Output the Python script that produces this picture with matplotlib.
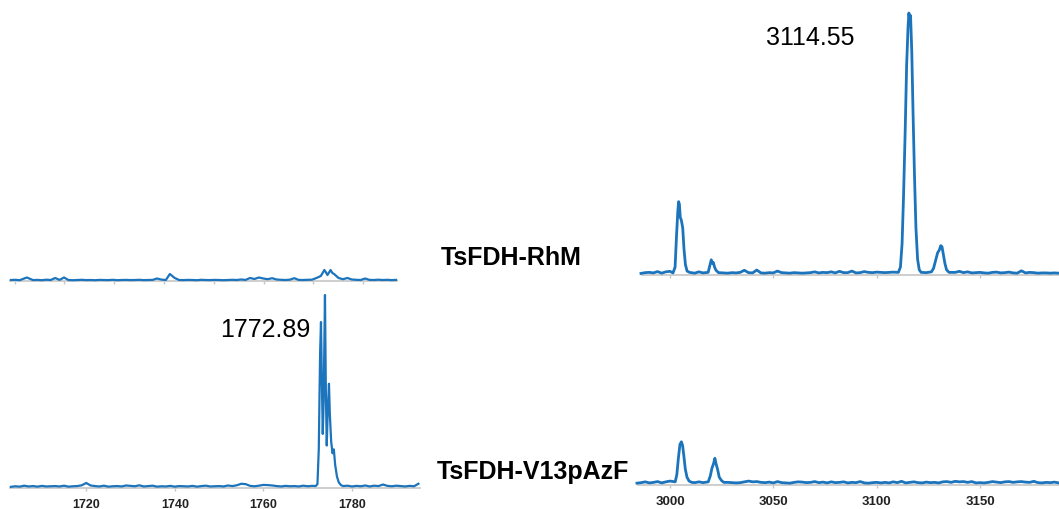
import numpy as np
import matplotlib.pyplot as plt

plt.rcParams['font.family'] = ['Liberation Sans', 'DejaVu Sans']

## data (intensity in % of each panel height)
# top left: TsFDH-RhM, low mass window
tl_start, tl_step = 1703, 1
tl_noise = [1.0, 1.2, 0.8, 2.5, 1.0, 0.9, 1.1, 0.8, 1.3, 1.0,
            3.0, 1.1, 3.5, 1.0, 0.8, 1.0, 1.2, 0.9, 1.0, 0.8,
            1.1, 1.0, 0.9, 1.2, 0.8, 1.0, 1.1, 0.9, 1.0, 1.2,
            0.9, 1.0, 1.1, 2.5, 1.4, 1.0, 1.2, 3.0, 1.0, 0.9,
            1.1, 1.0, 0.8, 1.2, 1.0, 0.9, 1.1, 1.0, 0.8, 1.0,
            1.2, 1.0, 1.5, 1.1, 3.0, 2.0, 3.5, 2.5, 1.8, 2.8,
            1.5, 1.2, 1.0, 1.3, 2.8, 1.1, 1.0, 1.2, 1.3, 3.0,
            5.0, 4.0, 5.0, 5.0, 3.0, 1.8, 3.0, 1.5, 1.2, 1.0,
            2.5, 1.1, 1.0, 1.3, 1.0, 1.2, 0.9, 1.1]
tl_peak_x = [1706.6, 1738.9, 1773.8, 1774.1, 1774.5, 1775.2, 1775.6, 1776.0]
tl_peak_y = [3.5, 7.0, 11.0, 9.0, 6.0, 11.0, 8.0, 7.0]
tl_ticks = [1703.9, 1715.0, 1726.3, 1737.6, 1748.8, 1760.1, 1771.2, 1782.5]

# bottom left: TsFDH-V13pAzF, low mass window
bl_start, bl_step = 1703, 1
bl_noise = [0.6, 0.9, 0.7, 1.2, 0.8, 1.0, 0.7, 1.1, 0.8, 0.9,
            1.0, 0.8, 1.2, 0.7, 0.9, 1.0, 1.4, 2.6, 1.3, 1.0,
            0.8, 1.2, 0.7, 0.9, 1.0, 0.8, 1.3, 1.1, 0.9, 1.4,
            0.8, 1.0, 1.2, 0.7, 0.9, 0.8, 1.1, 0.7, 1.0, 0.9,
            0.8, 1.1, 0.7, 1.0, 1.2, 0.8, 0.9, 1.0, 0.8, 1.3,
            1.0, 1.4, 2.2, 2.0, 1.1, 0.9, 1.2, 1.6, 1.5, 1.3,
            1.0, 0.8, 1.1, 0.9, 1.0, 0.8, 1.2, 0.9, 1.1, 1.0,
            1.0, 1.0, 1.0, 1.0, 1.0, 1.0, 1.2, 0.8, 1.1, 0.9,
            1.3, 0.8, 1.2, 1.0, 1.8, 1.1, 0.9, 1.2, 1.0, 0.8,
            1.1, 0.9, 2.2]
bl_peak_x = [1771.8, 1772.2, 1772.5, 1772.8, 1773.0, 1773.2, 1773.4, 1773.6,
             1773.9, 1774.1, 1774.3, 1774.5, 1774.8, 1775.0, 1775.3, 1775.6,
             1775.9, 1776.2, 1776.6, 1777.0, 1777.5]
bl_peak_y = [1.0, 2.0, 20.0, 70.0, 86.0, 55.0, 28.0, 45.0,
             100.0, 50.0, 22.0, 38.0, 54.0, 38.0, 24.0, 18.0,
             20.0, 12.0, 6.0, 3.0, 1.5]
bl_ticks = [1720, 1740, 1760, 1780]

# top right: TsFDH-RhM, high mass window
tr_start, tr_step = 2986, 2
tr_noise = [0.6, 0.9, 1.0, 0.8, 1.3, 0.7, 1.2, 1.4, 0.8, 0.8,
            0.8, 0.8, 1.0, 0.7, 1.2, 0.8, 0.9, 0.8, 0.9, 0.9,
            0.8, 0.7, 0.9, 0.8, 1.0, 1.8, 0.9, 0.8, 1.9, 0.8,
            0.7, 0.9, 0.8, 1.5, 0.9, 0.8, 0.7, 0.9, 0.8, 0.7,
            0.8, 0.9, 1.2, 0.8, 1.0, 0.9, 1.2, 0.8, 1.4, 0.9,
            0.9, 1.5, 0.8, 0.9, 1.3, 1.0, 0.9, 1.1, 1.0, 0.9,
            1.0, 1.1, 0.9, 1.0, 1.0, 1.0, 1.0, 1.0, 1.3, 0.9,
            1.0, 1.0, 1.0, 1.0, 1.0, 1.0, 1.0, 1.4, 0.9, 1.2,
            0.8, 0.9, 1.0, 0.8, 0.7, 1.0, 1.1, 0.8, 0.9, 1.1,
            0.8, 0.7, 1.6, 0.8, 1.0, 0.9, 0.7, 0.8, 0.8, 0.7,
            0.8, 0.7]
tr_peak_x = [3001.5, 3002.5, 3003.2, 3003.8, 3004.2, 3004.6, 3005.0, 3005.5,
             3006.2, 3006.8, 3007.5, 3008.3, 3009.5,
             3018.5, 3019.3, 3020.0, 3020.5, 3021.0, 3021.6, 3022.3, 3023.5,
             3110.5, 3111.5, 3112.3, 3113.0, 3113.8, 3114.5, 3115.2, 3115.6,
             3116.0, 3116.4, 3117.0, 3117.6, 3118.3, 3119.0, 3119.8, 3120.6,
             3121.5,
             3126.5, 3127.5, 3128.5, 3129.5, 3130.3, 3131.0, 3131.6, 3132.2,
             3133.0, 3133.8, 3135.0]
tr_peak_y = [0.8, 3.0, 15.0, 24.0, 28.0, 27.0, 22.0, 21.0,
             18.0, 10.0, 4.0, 1.5, 1.0,
             1.0, 3.5, 5.8, 4.5, 4.8, 3.0, 1.8, 0.9,
             1.0, 3.0, 12.0, 30.0, 55.0, 80.0, 95.0, 100.0,
             97.0, 99.0, 85.0, 62.0, 38.0, 18.0, 6.0, 2.0,
             1.0,
             1.2, 2.5, 5.5, 8.5, 9.5, 11.2, 10.8, 8.0,
             4.5, 2.0, 1.0]

# bottom right: TsFDH-V13pAzF, high mass window
br_start, br_step = 2984, 2
br_noise = [0.7, 0.9, 1.2, 0.8, 1.0, 1.3, 0.8, 1.2, 1.5, 0.8,
            0.8, 0.8, 0.8, 0.8, 0.9, 1.2, 0.9, 0.8, 0.8, 0.8,
            0.8, 0.8, 1.0, 0.9, 0.8, 0.9, 1.2, 1.5, 1.2, 1.3,
            1.0, 0.9, 1.1, 0.8, 1.3, 0.9, 0.8, 0.7, 1.0, 1.2,
            1.1, 0.9, 1.0, 1.3, 0.9, 1.1, 0.8, 1.2, 0.9, 1.0,
            1.2, 0.8, 1.0, 0.9, 1.3, 0.8, 0.7, 0.9, 1.0, 0.8,
            1.0, 0.8, 1.2, 0.9, 1.4, 0.8, 1.0, 1.2, 0.9, 0.8,
            1.1, 0.9, 1.0, 0.8, 1.2, 1.3, 1.0, 1.4, 1.2, 1.3,
            1.0, 1.3, 0.8, 0.9, 0.8, 1.0, 1.3, 1.1, 0.9, 1.2,
            1.3, 1.0, 1.2, 1.3, 1.1, 1.0, 1.4, 0.9, 0.8, 1.0,
            0.9, 1.1, 0.8]
br_peak_x = [3002.5, 3003.3, 3004.0, 3004.8, 3005.5, 3006.1, 3006.7, 3007.4,
             3008.2, 3009.2, 3010.5,
             3018.5, 3019.5, 3020.3, 3021.0, 3021.7, 3022.3, 3023.0, 3023.8,
             3024.8, 3026.0]
br_peak_y = [1.2, 4.0, 10.0, 15.5, 16.5, 15.0, 11.0, 6.0,
             3.0, 1.5, 1.0,
             1.2, 3.5, 6.5, 8.0, 10.2, 8.0, 6.0, 3.0,
             1.8, 1.0]
r_ticks = [3000, 3050, 3100, 3150]
r_ticklabels = ['3000', '3050', '3100', '3150']

peak_labels = ['1772.89', '3114.55']
sample_names = ['TsFDH-RhM', 'TsFDH-V13pAzF']

BLUE = '#1b74bc'
GRAY = '#c6c6c6'
W, H = 1059, 510


def spectrum(start, step, noise, px, py):
    gx = start + step * np.arange(len(noise))
    gy = np.array(noise, dtype=float)
    px = np.array(px, dtype=float)
    keep = np.array([np.min(np.abs(px - x)) >= step / 2 for x in gx])
    x = np.concatenate([gx[keep], px])
    y = np.concatenate([gy[keep], np.array(py, dtype=float)])
    o = np.argsort(x)
    return x[o], y[o]


fig = plt.figure(figsize=(W / 100, H / 100), dpi=100)


def panel(x0, x1, ybase, height, xlim, ticks, labels=None, fs=9, pad=5):
    ax = fig.add_axes([x0 / W, 1 - ybase / H, (x1 - x0) / W, height / H])
    ax.set_xlim(*xlim)
    ax.set_ylim(0, 100)
    for s in ['top', 'right', 'left']:
        ax.spines[s].set_visible(False)
    ax.spines['bottom'].set_color(GRAY)
    ax.spines['bottom'].set_linewidth(1.2)
    ax.set_yticks([])
    ax.set_xticks(ticks)
    if labels is None:
        ax.set_xticklabels([])
    else:
        ax.set_xticklabels(labels, fontsize=fs, fontweight='bold', color='#222222')
    ax.tick_params(axis='x', length=2.5, width=1, color=GRAY, pad=pad)
    ax.patch.set_visible(False)
    return ax


ax_tl = panel(10, 397, 282, 100, (1702.8, 1790.2), tl_ticks)
ax_bl = panel(10, 420, 489, 193, (1702.8, 1795.35), bl_ticks,
              [str(t) for t in bl_ticks], fs=9, pad=5)
ax_tr = panel(642, 1059, 276, 262, (2986.5, 3188.2), r_ticks)
ax_br = panel(638, 1059, 486, 262, (2984.5, 3188.2), r_ticks, r_ticklabels,
              fs=9.5, pad=5)

for ax, lw, d in [(ax_tl, 1.6, (tl_start, tl_step, tl_noise, tl_peak_x, tl_peak_y)),
                  (ax_bl, 1.6, (bl_start, bl_step, bl_noise, bl_peak_x, bl_peak_y)),
                  (ax_tr, 2.0, (tr_start, tr_step, tr_noise, tr_peak_x, tr_peak_y)),
                  (ax_br, 2.0, (br_start, br_step, br_noise, br_peak_x, br_peak_y))]:
    x, y = spectrum(*d)
    ax.plot(x, y, color=BLUE, lw=lw, clip_on=False, zorder=3)

# annotations
fig.text(265 / W, 1 - 330 / H, peak_labels[0], fontsize=18, ha='center', va='center')
fig.text(810 / W, 1 - 38 / H, peak_labels[1], fontsize=18, ha='center', va='center')
fig.text(511 / W, 1 - 258 / H, sample_names[0], fontsize=18, fontweight='bold',
         ha='center', va='center')
fig.text(533 / W, 1 - 472 / H, sample_names[1], fontsize=18, fontweight='bold',
         ha='center', va='center')

fig.savefig('out.png', dpi=100)
